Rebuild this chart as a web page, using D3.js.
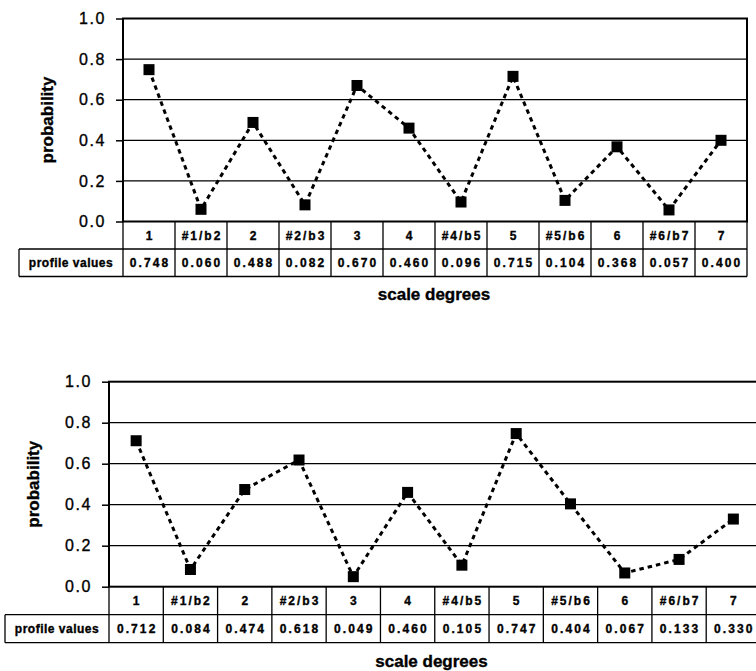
<!DOCTYPE html>
<html>
<head>
<meta charset="utf-8">
<script src="https://cdnjs.cloudflare.com/ajax/libs/d3/7.8.5/d3.min.js"></script>
<style>
  body { margin: 0; background: #fff; }
  svg { display: block; }
  text { font-family: "Liberation Sans", Arial, sans-serif; fill: #000; stroke: #000; stroke-width: 0.35px; }
</style>
</head>
<body>
<svg id="chart" width="756" height="671"></svg>
<script>
// scale degree categories and the two profiles
var categories = ["1", "#1/b2", "2", "#2/b3", "3", "4", "#4/b5", "5", "#5/b6", "6", "#6/b7", "7"];
var profileTop = [0.748, 0.060, 0.488, 0.082, 0.670, 0.460, 0.096, 0.715, 0.104, 0.368, 0.057, 0.400];
var profileBottom = [0.712, 0.084, 0.474, 0.618, 0.049, 0.460, 0.105, 0.747, 0.404, 0.067, 0.133, 0.330];
var yTicks = [0, 0.2, 0.4, 0.6, 0.8, 1.0];

var svg = d3.select("#chart");

// layout for each panel
var panels = [
  { values: profileTop, left: 123, right: 747, top: 18.5, bottom: 221.5, row: 27.5, labLeft: 19, titleY: 300 },
  { values: profileBottom, left: 109, right: 760.5, top: 381.7, bottom: 586.7, row: 28, labLeft: 5, titleY: 667 }
];

panels.forEach(drawPanel);

function drawPanel(p) {
  var g = svg.append("g");
  var x = d3.scaleBand().domain(categories).range([p.left, p.right]);
  var y = d3.scaleLinear().domain([0, 1]).range([p.bottom, p.top]);

  // gridlines
  g.selectAll(".grid").data(yTicks.slice(1, 5)).enter().append("line")
    .attr("x1", p.left).attr("x2", p.right)
    .attr("y1", function(d) { return y(d); }).attr("y2", function(d) { return y(d); })
    .attr("stroke", "#000").attr("stroke-width", 1.2);

  // y axis with ticks
  var yAxis = d3.axisLeft(y).tickValues(yTicks).tickFormat(d3.format(".1f")).tickSize(7).tickPadding(10);
  var ax = g.append("g").attr("transform", "translate(" + p.left + ",0)").call(yAxis);
  ax.select(".domain").remove();
  ax.selectAll(".tick line").attr("stroke", "#000").attr("stroke-width", 1.5);
  ax.selectAll(".tick text")
    .style("font-family", "'Liberation Sans', Arial, sans-serif")
    .style("font-size", "16px").style("letter-spacing", "1.6px")
    .attr("fill", "#000").attr("stroke", "#000").attr("stroke-width", 0.5);

  // plot frame
  g.append("rect")
    .attr("x", p.left).attr("y", p.top)
    .attr("width", p.right - p.left).attr("height", p.bottom - p.top)
    .attr("fill", "none").attr("stroke", "#000").attr("stroke-width", 2);

  // data table under the plot
  var r1 = p.bottom + p.row, r2 = r1 + p.row;
  var tl = g.append("g").attr("stroke", "#000").attr("stroke-width", 1.3);
  tl.append("line").attr("x1", p.labLeft).attr("x2", p.right).attr("y1", r1).attr("y2", r1);
  tl.append("line").attr("x1", p.labLeft).attr("x2", p.right).attr("y1", r2).attr("y2", r2);
  tl.append("line").attr("x1", p.labLeft).attr("x2", p.labLeft).attr("y1", r1).attr("y2", r2);
  tl.selectAll(".col").data(categories).enter().append("line")
    .attr("x1", function(d) { return x(d); }).attr("x2", function(d) { return x(d); })
    .attr("y1", p.bottom).attr("y2", r2);
  tl.append("line").attr("x1", p.right).attr("x2", p.right).attr("y1", p.bottom).attr("y2", r2);

  g.selectAll(".cat").data(categories).enter().append("text")
    .attr("x", function(d) { return x(d) + x.bandwidth() / 2 + 1; })
    .attr("y", (p.bottom + r1) / 2 + 4.5)
    .attr("text-anchor", "middle")
    .style("font-size", "12px").style("font-weight", "bold").style("letter-spacing", "2px")
    .text(function(d) { return d; });

  g.selectAll(".val").data(p.values).enter().append("text")
    .attr("x", function(d, i) { return x(categories[i]) + x.bandwidth() / 2 + 1; })
    .attr("y", (r1 + r2) / 2 + 4.5)
    .attr("text-anchor", "middle")
    .style("font-size", "12px").style("font-weight", "bold").style("letter-spacing", "2.1px")
    .text(function(d) { return d.toFixed(3); });

  g.append("text")
    .attr("x", (p.labLeft + p.left) / 2)
    .attr("y", (r1 + r2) / 2 + 4)
    .attr("text-anchor", "middle")
    .style("font-size", "12px").style("font-weight", "bold").style("letter-spacing", "0.5px")
    .text("profile values");

  // dashed profile line and markers
  var line = d3.line()
    .x(function(d, i) { return x(categories[i]) + x.bandwidth() / 2; })
    .y(function(d) { return y(d); });
  g.append("path").datum(p.values)
    .attr("d", line).attr("fill", "none")
    .attr("stroke", "#000").attr("stroke-width", 3).attr("stroke-dasharray", "4.5,4");

  g.selectAll(".pt").data(p.values).enter().append("rect")
    .attr("x", function(d, i) { return x(categories[i]) + x.bandwidth() / 2 - 5.5; })
    .attr("y", function(d) { return y(d) - 5.5; })
    .attr("width", 11).attr("height", 11).attr("fill", "#000");

  // axis titles
  g.append("text")
    .attr("transform", "translate(" + (p.left - 70) + "," + ((p.top + p.bottom) / 2) + ") rotate(-90)")
    .attr("text-anchor", "middle")
    .style("font-size", "17px").style("font-weight", "bold")
    .text("probability");

  g.append("text")
    .attr("x", (p.left + Math.min(p.right, 756)) / 2 - 1)
    .attr("y", p.titleY)
    .attr("text-anchor", "middle")
    .style("font-size", "17px").style("font-weight", "bold")
    .text("scale degrees");
}
</script>
</body>
</html>
